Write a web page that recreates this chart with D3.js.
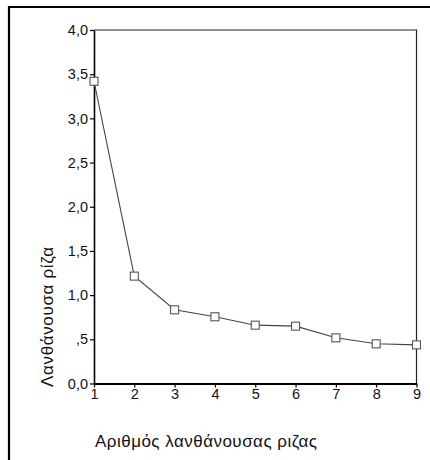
<!DOCTYPE html>
<html>
<head>
<meta charset="utf-8">
<script src="https://cdn.jsdelivr.net/npm/d3@7"></script>
<style>
  html, body { margin: 0; padding: 0; background: #fff; }
  svg { display: block; }
  text { font-family: "Liberation Sans", Arial, sans-serif; fill: #111; }
</style>
</head>
<body>
<svg id="chart" width="430" height="460"></svg>
<script>
// Scree plot data: component number and its eigenvalue
const components = [1, 2, 3, 4, 5, 6, 7, 8, 9];
const eigenvalues = [3.42, 1.215, 0.834, 0.755, 0.66, 0.649, 0.517, 0.449, 0.437];
const yTicks = [0, 0.5, 1, 1.5, 2, 2.5, 3, 3.5, 4];
const yTickLabels = ["0,0", ",5", "1,0", "1,5", "2,0", "2,5", "3,0", "3,5", "4,0"];
const xTitle = "Αριθμός λανθάνουσας ριζας";
const yTitle = "Λανθάνουσα ρίζα";

const svg = d3.select("#chart");

// Outer frame (top and left edges)
svg.append("path")
  .attr("d", "M9,460 V7 H430")
  .attr("fill", "none")
  .attr("stroke", "#000")
  .attr("stroke-width", 2.2);

const plot = { left: 94, right: 416.5, top: 30, bottom: 383.5 };

const x = d3.scaleLinear().domain([1, 9]).range([plot.left, plot.right]);
const y = d3.scaleLinear().domain([0, 4]).range([plot.bottom, plot.top]);

// Plot frame: thin top and right edges
svg.append("path")
  .attr("d", `M${plot.left},${plot.top} H${plot.right} V${plot.bottom}`)
  .attr("fill", "none")
  .attr("stroke", "#222")
  .attr("stroke-width", 1.2);

// Y axis
const yAxis = svg.append("g")
  .attr("transform", `translate(${plot.left},0)`)
  .call(d3.axisLeft(y).tickValues(yTicks)
    .tickFormat((d, i) => yTickLabels[i])
    .tickSize(4).tickPadding(2).tickSizeOuter(0));
yAxis.select(".domain").attr("stroke", "#000").attr("stroke-width", 1.6);
yAxis.selectAll(".tick line").attr("stroke", "#000").attr("stroke-width", 1.2);
yAxis.selectAll(".tick text").attr("font-size", 14.5).attr("fill", "#111")
  .attr("font-family", "Liberation Sans, Arial, sans-serif");

// X axis
const xAxis = svg.append("g")
  .attr("transform", `translate(0,${plot.bottom})`)
  .call(d3.axisBottom(x).tickValues(components)
    .tickFormat(d3.format("d"))
    .tickSize(4).tickPadding(1).tickSizeOuter(0));
xAxis.select(".domain").attr("stroke", "#000").attr("stroke-width", 2);
xAxis.selectAll(".tick line").attr("stroke", "#000").attr("stroke-width", 1.2);
xAxis.selectAll(".tick text").attr("font-size", 14.5).attr("fill", "#111")
  .attr("font-family", "Liberation Sans, Arial, sans-serif");

// Eigenvalue line
const data = components.map((c, i) => ({ c, v: eigenvalues[i] }));
svg.append("path")
  .datum(data)
  .attr("fill", "none")
  .attr("stroke", "#444")
  .attr("stroke-width", 1.1)
  .attr("d", d3.line().x(d => x(d.c)).y(d => y(d.v)));

// Square markers
const s = 8;
svg.append("g").selectAll("rect")
  .data(data)
  .join("rect")
  .attr("x", d => x(d.c) - s / 2)
  .attr("y", d => y(d.v) - s / 2)
  .attr("width", s)
  .attr("height", s)
  .attr("fill", "#fff")
  .attr("stroke", "#555")
  .attr("stroke-width", 1.1);

// Axis titles
svg.append("text")
  .attr("x", 95)
  .attr("y", 447)
  .attr("font-size", 17)
  .attr("textLength", 222)
  .attr("lengthAdjust", "spacing")
  .text(xTitle);

svg.append("text")
  .attr("transform", `translate(53,317) rotate(-90)`)
  .attr("text-anchor", "middle")
  .attr("font-size", 17)
  .attr("textLength", 140)
  .attr("lengthAdjust", "spacing")
  .text(yTitle);
</script>
</body>
</html>
